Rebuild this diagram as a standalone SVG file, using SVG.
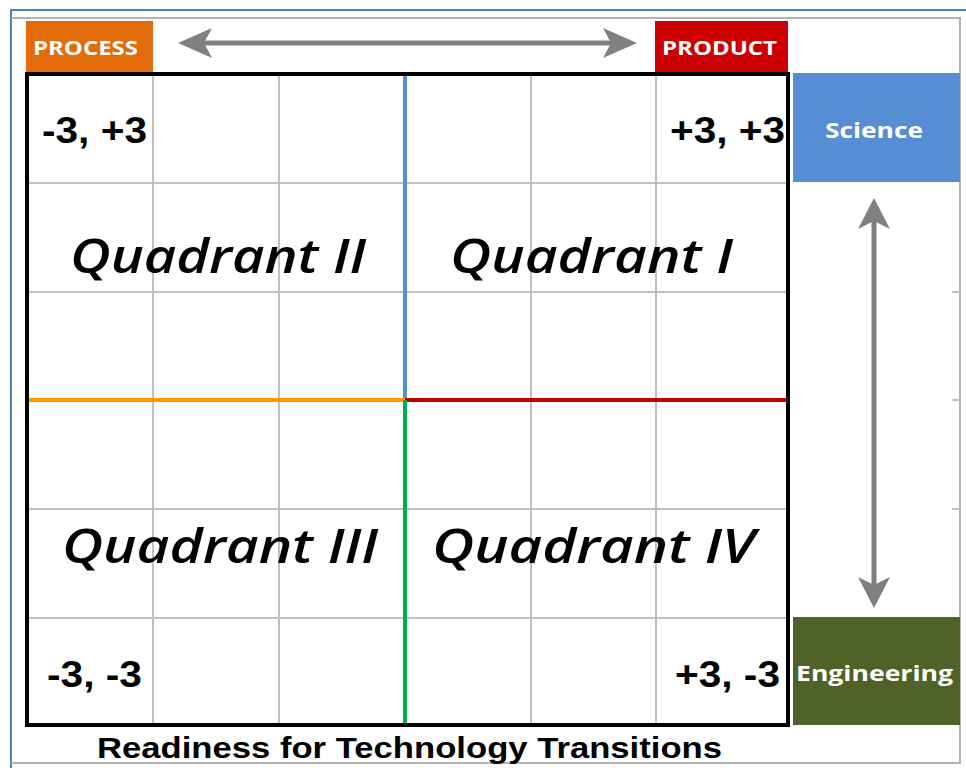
<svg xmlns="http://www.w3.org/2000/svg" width="966" height="768" viewBox="0 0 966 768">
<style>
.grid{stroke:#c0c0c0;stroke-width:2;fill:none}
.frame{stroke:#b4b4b4;stroke-width:2;fill:none}
.lbl{font-family:"Open Sans","Liberation Sans",sans-serif;font-weight:700;fill:#ffffff}
.coord{font-family:"Liberation Sans",Arial,sans-serif;font-weight:700;fill:#000;font-size:37px}
.quad{font-family:"Open Sans","Liberation Sans",sans-serif;font-weight:600;font-style:italic;fill:#000;font-size:47px}
.arrow{stroke:#808080;stroke-width:5;fill:none}
.head{fill:#808080}
</style>
<rect x="0" y="0" width="966" height="768" fill="#ffffff"/>
<!-- outer frames -->
<path d="M11 768 V10 H966" stroke="#4f81bd" stroke-width="2" fill="none"/>
<path class="frame" d="M11 18 H960 V763 H11"/>
<!-- grid -->
<g id="grid">
<path class="grid" d="M153 74 V725 M279 74 V725 M531 74 V725 M656 74 V725"/>
<path class="grid" d="M27 183 H788 M27 292 H788 M27 509 H788 M27 618 H788"/>
<path class="grid" d="M952 292 H960 M952 400 H960 M952 509 H960"/>
</g>
<!-- header boxes -->
<g id="process">
<rect x="26" y="21" width="127" height="51" fill="#e36c0a"/>
<text class="lbl" x="33" y="55" font-size="19" textLength="105" lengthAdjust="spacingAndGlyphs">PROCESS</text>
</g>
<g id="product">
<rect x="655" y="21" width="133" height="51" fill="#cc0000"/>
<text class="lbl" x="662" y="55" font-size="19" textLength="115" lengthAdjust="spacingAndGlyphs">PRODUCT</text>
</g>
<g id="science">
<rect x="793" y="73" width="167" height="109" fill="#558ed5"/>
<text class="lbl" x="825" y="138" font-size="21" textLength="98" lengthAdjust="spacingAndGlyphs">Science</text>
</g>
<g id="engineering">
<rect x="793" y="617" width="167" height="108" fill="#4f6228"/>
<text class="lbl" x="796" y="681" font-size="21" textLength="157" lengthAdjust="spacingAndGlyphs">Engineering</text>
</g>
<!-- quadrant axes -->
<g id="axes">
<line x1="405" y1="74" x2="405" y2="400" stroke="#558ed5" stroke-width="4"/>
<line x1="27" y1="400" x2="405" y2="400" stroke="#ff9900" stroke-width="4"/>
<line x1="405" y1="400" x2="788" y2="400" stroke="#c00000" stroke-width="4"/>
<line x1="405" y1="400" x2="405" y2="725" stroke="#00b050" stroke-width="4"/>
</g>
<!-- main black border -->
<rect x="27" y="74" width="761" height="651" fill="none" stroke="#000" stroke-width="4"/>
<!-- coordinates -->
<g id="coords">
<text class="coord" x="42" y="143" textLength="105" lengthAdjust="spacingAndGlyphs">-3, +3</text>
<text class="coord" x="670" y="143" textLength="115" lengthAdjust="spacingAndGlyphs">+3, +3</text>
<text class="coord" x="47" y="687" textLength="95" lengthAdjust="spacingAndGlyphs">-3, -3</text>
<text class="coord" x="675" y="687" textLength="105" lengthAdjust="spacingAndGlyphs">+3, -3</text>
</g>
<!-- quadrant labels -->
<g id="q2"><text class="quad" x="70" y="273" textLength="296" lengthAdjust="spacingAndGlyphs">Quadrant II</text></g>
<g id="q1"><text class="quad" x="450" y="273" textLength="283" lengthAdjust="spacingAndGlyphs">Quadrant I</text></g>
<g id="q3"><text class="quad" x="62" y="563" textLength="316" lengthAdjust="spacingAndGlyphs">Quadrant III</text></g>
<g id="q4"><text class="quad" x="432" y="563" textLength="323" lengthAdjust="spacingAndGlyphs">Quadrant IV</text></g>
<!-- connectors -->
<g id="connectors">
<line class="arrow" x1="200" y1="43" x2="615" y2="43"/>
<polygon class="head" points="178,43 212,28 204,43 212,58"/>
<polygon class="head" points="637,43 603,28 611,43 603,58"/>
<line class="arrow" x1="874" y1="220" x2="874" y2="586"/>
<polygon class="head" points="874,198 890,229 874,221 858,229"/>
<polygon class="head" points="874,608 890,577 874,585 858,577"/>
</g>
<!-- title -->
<text x="97" y="758" font-family="Liberation Sans,Arial,sans-serif" font-weight="700" font-size="29" fill="#000" textLength="625" lengthAdjust="spacingAndGlyphs">Readiness for Technology Transitions</text>
</svg>
